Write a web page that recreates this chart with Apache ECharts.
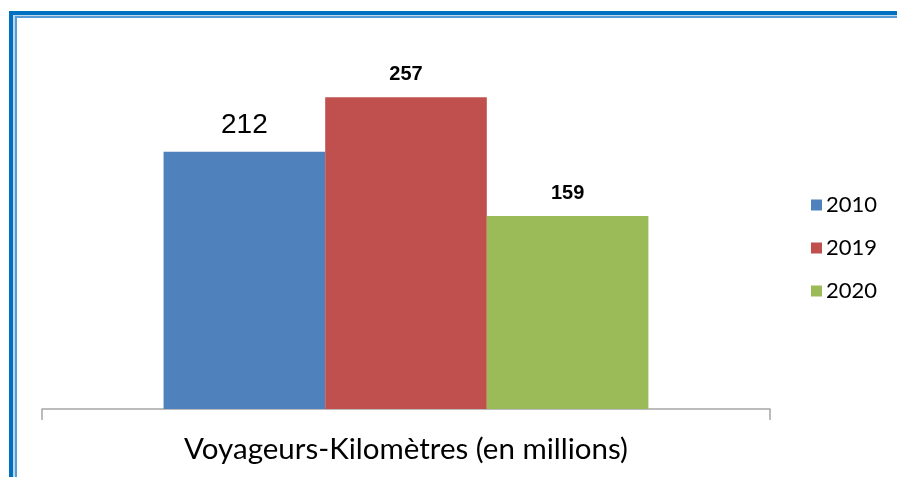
<!DOCTYPE html>
<html>
<head>
<meta charset="utf-8">
<script src="https://cdn.jsdelivr.net/npm/echarts@6/dist/echarts.min.js"></script>
<style>
  html, body { margin: 0; padding: 0; background: #ffffff; }
  #chart { width: 897px; height: 477px; }
</style>
</head>
<body>
<div id="chart"></div>
<script>
// Passenger-kilometres, in millions, by year
const categories = ['Voyageurs-Kilomètres (en millions)'];
const years = ['2010', '2019', '2020'];
const values2010 = [212];
const values2019 = [257];
const values2020 = [159];

const colors = ['#4F81BD', '#C0504D', '#9BBB59'];
const seriesValues = [values2010, values2019, values2020];

const chart = echarts.init(document.getElementById('chart'), null, { renderer: 'canvas' });

const labelStyles = [
  { fontSize: 28, fontWeight: 'normal', distance: 12 },
  { fontSize: 20, fontWeight: 'bold', distance: 13 },
  { fontSize: 20, fontWeight: 'bold', distance: 13 }
];

const series = years.map((y, i) => ({
  name: y,
  type: 'bar',
  data: seriesValues[i],
  barGap: '0%',
  barCategoryGap: '33.4%',
  itemStyle: { color: colors[i] },
  label: {
    show: true,
    position: 'top',
    distance: labelStyles[i].distance,
    color: '#000',
    fontFamily: '"Liberation Sans", Arial, sans-serif',
    fontSize: labelStyles[i].fontSize,
    fontWeight: labelStyles[i].fontWeight
  }
}));

chart.setOption({
  animation: false,
  backgroundColor: '#ffffff',
  grid: { left: 42, right: 127, top: 45, bottom: 68 },
  legend: {
    orient: 'vertical',
    left: 811,
    top: 194,
    padding: 0,
    itemWidth: 11,
    itemHeight: 11,
    itemGap: 21,
    icon: 'rect',
    data: years,
    textStyle: { fontSize: 22, color: '#000', fontFamily: 'Lato, sans-serif', padding: [0, 0, 0, -1] }
  },
  xAxis: {
    type: 'category',
    data: categories,
    axisLine: { lineStyle: { color: '#A6A6A6', width: 1.5 } },
    axisTick: { show: true, length: 11, lineStyle: { color: '#A6A6A6', width: 1.5 } },
    axisLabel: { color: '#000', fontSize: 29.5, fontFamily: 'Lato, sans-serif', margin: 25 }
  },
  yAxis: {
    type: 'value',
    min: 0,
    max: 300,
    show: false,
    splitLine: { show: false }
  },
  graphic: [
    // outer frame band
    { type: 'rect', shape: { x: 9, y: 11, width: 4, height: 466 }, style: { fill: '#0070C0' } },
    { type: 'rect', shape: { x: 9, y: 11, width: 888, height: 4 }, style: { fill: '#0070C0' } },
    // inner pale stripe
    { type: 'rect', shape: { x: 13, y: 15, width: 2, height: 462 }, style: { fill: '#BDD7EE' } },
    { type: 'rect', shape: { x: 13, y: 15, width: 884, height: 1 }, style: { fill: '#BDD7EE' } },
    // inner line
    { type: 'rect', shape: { x: 15, y: 16, width: 2, height: 461 }, style: { fill: '#5B9BD5' } },
    { type: 'rect', shape: { x: 15, y: 16, width: 882, height: 2 }, style: { fill: '#5B9BD5' } }
  ],
  series: series
});
</script>
</body>
</html>
